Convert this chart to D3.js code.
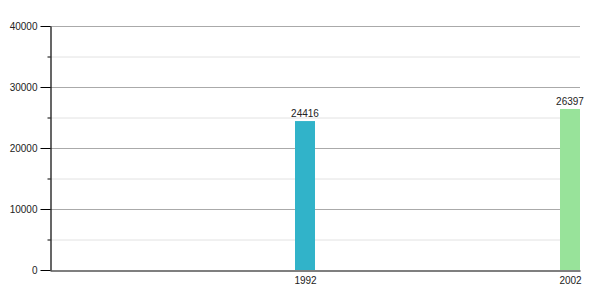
<!DOCTYPE html>
<html>
<head>
<meta charset="utf-8">
<script src="https://cdn.jsdelivr.net/npm/d3@7"></script>
<style>
  body { margin: 0; background: #fff; }
  text { font-family: "Liberation Sans", Arial, sans-serif; }
</style>
</head>
<body>
<div id="vis"></div>
<script>
// chart data
const YEARS = [1992, 2002];
const VALUES = [24416, 26397];
const COLORS = ["#31b3c9", "#98e39a"];
const Y_TICKS = [0, 10000, 20000, 30000, 40000];
const Y_MINOR = [5000, 15000, 25000, 35000];

// frame
const FRAME_WIDTH = 600;
const FRAME_HEIGHT = 300;
const MARGINS = {left: 50, right: 20, top: 26, bottom: 30};
const BAR_W = 20;

const svg = d3.select("#vis")
  .append("svg")
    .attr("width", FRAME_WIDTH)
    .attr("height", FRAME_HEIGHT);

const X_SCALE = d3.scaleLinear()
  .domain([1982, 2002])
  .range([MARGINS.left, FRAME_WIDTH - MARGINS.right]);

const Y_SCALE = d3.scaleLinear()
  .domain([0, 40000])
  .range([FRAME_HEIGHT - MARGINS.bottom, MARGINS.top]);

// minor gridlines
svg.append("g")
  .selectAll("line")
  .data(Y_MINOR)
  .enter()
  .append("line")
    .attr("x1", MARGINS.left)
    .attr("x2", FRAME_WIDTH - MARGINS.right)
    .attr("y1", d => Y_SCALE(d) + 0.5)
    .attr("y2", d => Y_SCALE(d) + 0.5)
    .attr("stroke", "#e2e2e2");

// major gridlines
svg.append("g")
  .selectAll("line")
  .data(Y_TICKS.slice(1))
  .enter()
  .append("line")
    .attr("x1", MARGINS.left)
    .attr("x2", FRAME_WIDTH - MARGINS.right)
    .attr("y1", d => Y_SCALE(d) + 0.5)
    .attr("y2", d => Y_SCALE(d) + 0.5)
    .attr("stroke", "#aaaaaa");

// bars
svg.append("g")
  .selectAll("rect")
  .data(YEARS)
  .enter()
  .append("rect")
    .attr("x", d => X_SCALE(d) - BAR_W)
    .attr("y", (d, i) => Y_SCALE(VALUES[i]))
    .attr("width", BAR_W)
    .attr("height", (d, i) => Y_SCALE(0) - Y_SCALE(VALUES[i]))
    .attr("fill", (d, i) => COLORS[i]);

// value labels
svg.append("g")
  .selectAll("text")
  .data(YEARS)
  .enter()
  .append("text")
    .attr("x", d => X_SCALE(d) - BAR_W / 2)
    .attr("y", (d, i) => Y_SCALE(VALUES[i]) - 4)
    .attr("text-anchor", "middle")
    .attr("font-size", "10px")
    .attr("fill", "#222")
    .text((d, i) => VALUES[i]);

// y axis minor ticks
svg.append("g")
  .attr("transform", "translate(" + (MARGINS.left + 0.5) + ",0)")
  .call(d3.axisLeft(Y_SCALE).tickValues(Y_MINOR).tickSize(3).tickFormat(""))
  .call(g => g.select(".domain").remove());

// y axis
svg.append("g")
  .attr("transform", "translate(" + (MARGINS.left + 0.5) + ",0)")
  .call(d3.axisLeft(Y_SCALE).tickValues(Y_TICKS).tickFormat(d3.format("d")).tickSize(10).tickPadding(3).tickSizeOuter(0))
  .call(g => g.selectAll("text").attr("font-size", "10px").attr("fill", "#222").attr("font-family", null))
  .call(g => g.select(".domain").attr("stroke", "#000").attr("stroke-width", 1.2));

// x axis
svg.append("g")
  .attr("transform", "translate(0," + (Y_SCALE(0) + 0.5) + ")")
  .call(d3.axisBottom(X_SCALE).tickValues(YEARS).tickFormat(d3.format("d")).tickSize(0).tickPadding(6).tickSizeOuter(0))
  .call(g => g.selectAll(".tick text").attr("dx", -BAR_W / 2).attr("font-size", "10px").attr("fill", "#222").attr("font-family", null))
  .call(g => g.select(".domain").attr("stroke", "#000").attr("stroke-width", 1.2));
</script>
</body>
</html>
